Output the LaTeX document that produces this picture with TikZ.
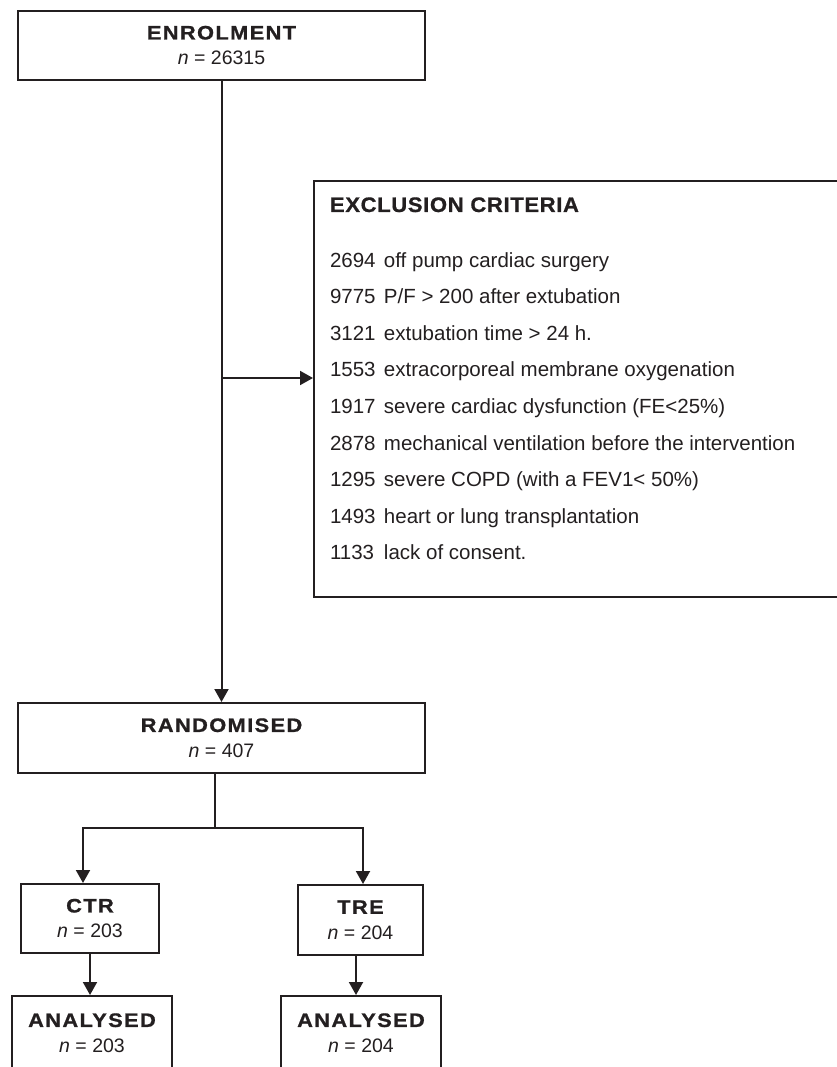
\documentclass[tikz,border=0pt]{standalone}
\usepackage{fontspec}
\setmainfont{Liberation Sans}
\newfontfamily\boxhead{Liberation Sans Bold}[FakeStretch=1.12, LetterSpace=7, FakeBold=1]
\newfontfamily\listhead{Liberation Sans Bold}[FakeStretch=1.05, LetterSpace=3, FakeBold=0.8]
\usetikzlibrary{arrows.meta, positioning}
\definecolor{inkgray}{RGB}{35,31,32}

\begin{document}
\begin{tikzpicture}[
    x=1pt, y=-1pt,
    flowbox/.style={draw, rectangle, align=center, inner sep=0pt,
      font=\fontsize{19.5}{25.5}\selectfont},
    ->, >={Triangle[length=13pt, width=14pt]}, line width=2pt,
    color=inkgray
  ]
    \useasboundingbox (0,0) rectangle (837,1067);
    \clip (0,0) rectangle (837,1067);
    \node[flowbox, minimum width=407pt, minimum height=69pt] (enrol) at (221.5,45.5)
      {{\boxhead ENROLMENT}\\\textit{n} = 26315};
    \node[flowbox, minimum width=407pt, minimum height=70pt] (rand) at (221.5,738)
      {{\boxhead RANDOMISED}\\\textit{n} = 407};
    \node[flowbox, minimum width=138pt, minimum height=69pt] (ctr) at (90,918.5)
      {{\boxhead CTR}\\\textit{n} = 203};
    \node[flowbox, minimum width=125pt, minimum height=70pt] (tre) at (360.5,920)
      {{\boxhead TRE}\\\textit{n} = 204};
    \node[flowbox, minimum width=160pt, minimum height=74pt] (anactr) at (92,1033)
      {{\boxhead ANALYSED}\\\textit{n} = 203};
    \node[flowbox, minimum width=160pt, minimum height=74pt] (anatre) at (361,1033)
      {{\boxhead ANALYSED}\\\textit{n} = 204};
    % exclusion box runs off the right edge
    \node[draw, minimum width=546pt, minimum height=416pt, inner sep=0pt] (excl) at (587,389) {};
    \node[anchor=base west, inner sep=0pt, font=\fontsize{21}{25}\selectfont] (exhead) at (329,212)
      {\listhead EXCLUSION CRITERIA};
    \node[anchor=base west, inner sep=0pt, font=\fontsize{20.5}{36.6}\selectfont] (exlist) at (329,267)
      {\begin{tabular}[t]{@{}p{54pt}@{}l@{}}
        2694 & off pump cardiac surgery\\
        9775 & P/F > 200 after extubation\\
        3121 & extubation time > 24 h.\\
        1553 & extracorporeal membrane oxygenation\\
        1917 & severe cardiac dysfunction (FE<25\%)\\
        2878 & mechanical ventilation before the intervention\\
        1295 & severe COPD (with a FEV1< 50\%)\\
        1493 & heart or lung transplantation\\
        1133 & lack of consent.
      \end{tabular}};
    \coordinate (split) at (221.5,378);
    \coordinate (fork) at (215,828);
    \draw (enrol) -- (rand);
    \draw (split) -- (split -| excl.west);
    \draw[-] (rand.south -| fork) -- (fork);
    \draw (fork) -| ([xshift=-7pt]ctr.north);
    \draw (fork) -| ([xshift=2.5pt]tre.north);
    \draw (ctr.south) -- (ctr.south |- anactr.north);
    \draw ([xshift=-4.5pt]tre.south) -- ([xshift=-4.5pt]tre.south |- anatre.north);
  \end{tikzpicture}
\end{document}
